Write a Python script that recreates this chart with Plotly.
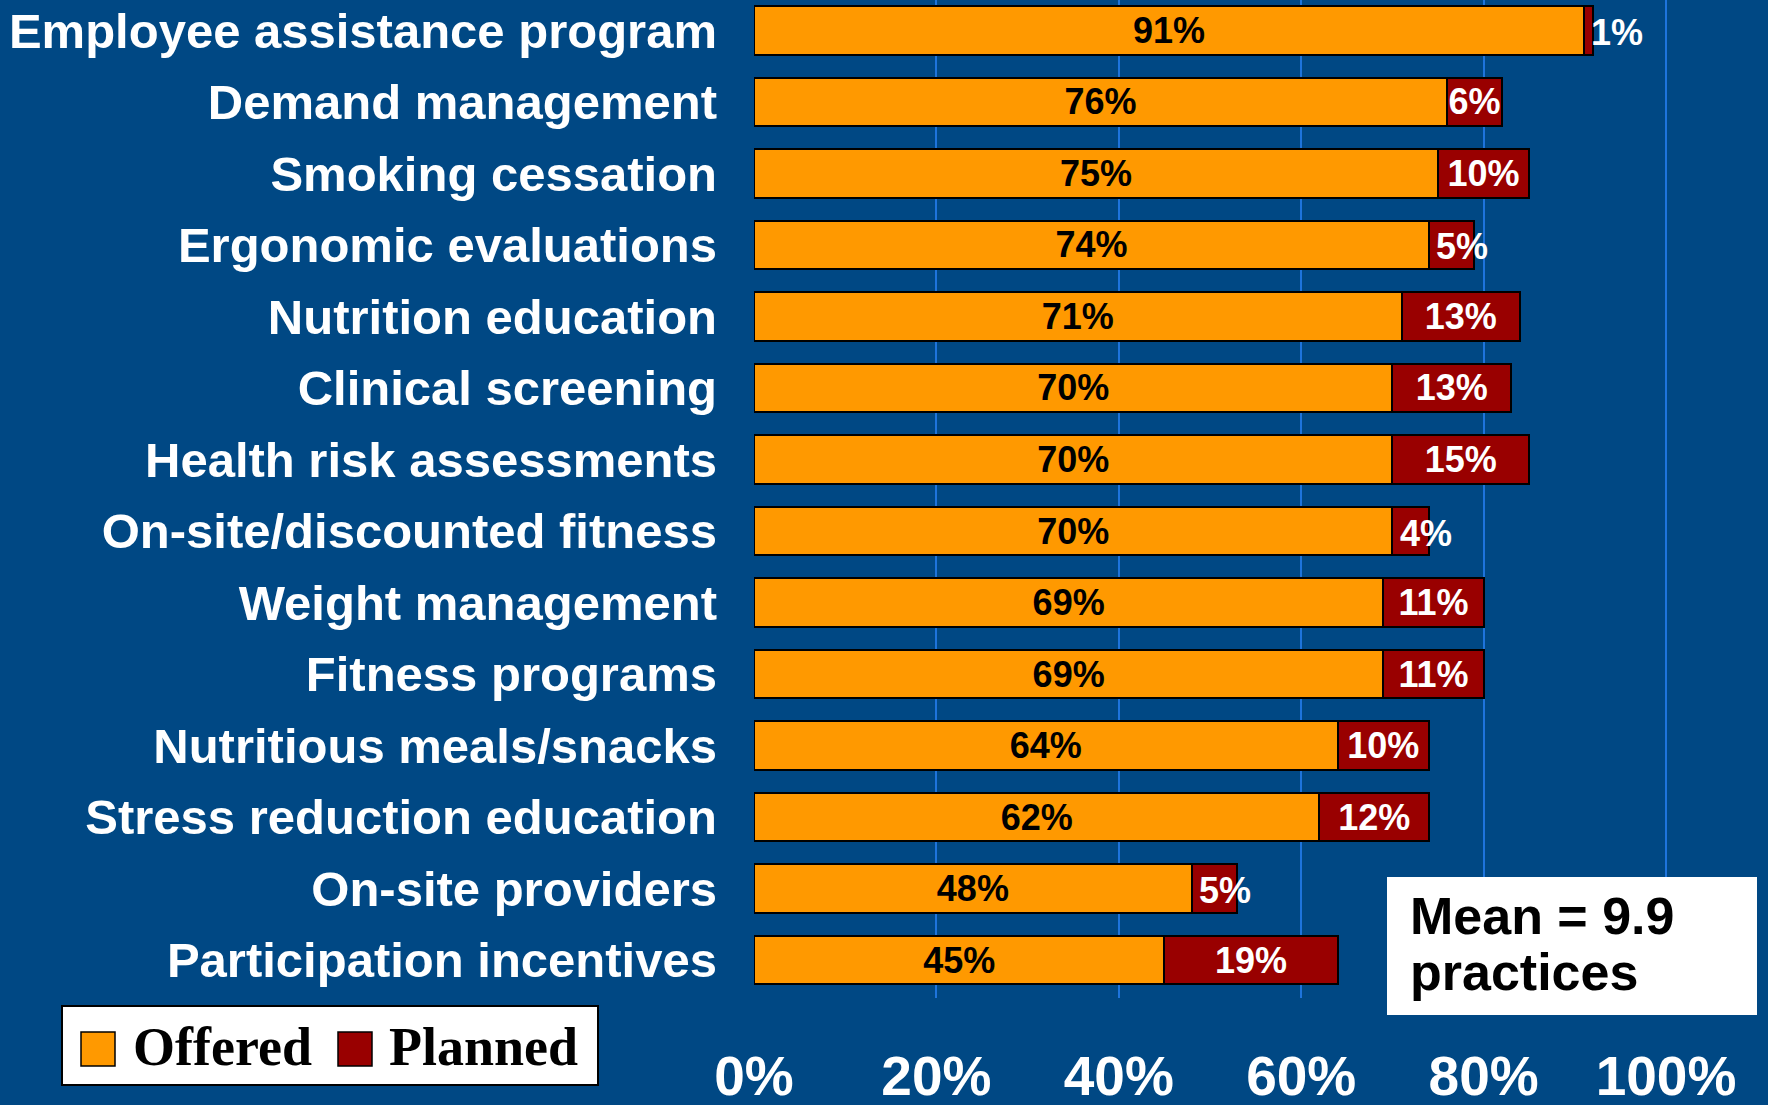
import plotly.graph_objects as go

categories = ["Employee assistance program", "Demand management", "Smoking cessation",
              "Ergonomic evaluations", "Nutrition education", "Clinical screening",
              "Health risk assessments", "On-site/discounted fitness", "Weight management",
              "Fitness programs", "Nutritious meals/snacks", "Stress reduction education",
              "On-site providers", "Participation incentives"]
offered = [91, 76, 75, 74, 71, 70, 70, 70, 69, 69, 64, 62, 48, 45]
planned = [1, 6, 10, 5, 13, 13, 15, 4, 11, 11, 10, 12, 5, 19]
tick_vals = [0, 20, 40, 60, 80, 100]
tick_text = ["0%", "20%", "40%", "60%", "80%", "100%"]
series_names = ["Offered", "Planned"]
mean_lines = ["Mean = 9.9", "practices"]

W, H = 1768, 1105
L, B = 754, 107
PW, PH = W - L, H - B
BG = "#004884"
ORANGE = "#FF9900"
RED = "#990000"
SANS = "Liberation Sans, Arial, sans-serif"
SERIF = "Liberation Serif, Times New Roman, serif"
LABEL_FONT = dict(family=SANS, size=36, weight="bold")


def px(x):
    return (x - L) / PW


def py(y):
    return (PH - y) / PH


big_planned_text = [f"{p}%" if p >= 6 else "" for p in planned]

fig = go.Figure()
fig.add_trace(go.Bar(y=categories, x=offered, orientation="h", name=series_names[0],
                     marker=dict(color=ORANGE, line=dict(color="black", width=2)),
                     text=[f"{o}%" for o in offered], textposition="inside",
                     insidetextanchor="middle", constraintext="none", textangle=0,
                     insidetextfont=dict(color="black", **LABEL_FONT),
                     hoverinfo="x+y"))
fig.add_trace(go.Bar(y=categories, x=planned, orientation="h", name=series_names[1],
                     marker=dict(color=RED, line=dict(color="black", width=2)),
                     text=big_planned_text, textposition="inside",
                     insidetextanchor="middle", constraintext="none", textangle=0,
                     insidetextfont=dict(color="white", **LABEL_FONT),
                     hoverinfo="x+y"))

shapes = []
annotations = []
# labels of the narrow planned segments, which spill to the right
for c, o, p in zip(categories, offered, planned):
    if p < 6:
        annotations.append(dict(xref="x", yref="y", x=o + min(p, 0.8), y=c, text=f"{p}%",
                                showarrow=False, xanchor="left", yanchor="middle",
                                yshift=-2, xshift=-2,
                                font=dict(color="white", **LABEL_FONT)))
# Mean box
shapes.append(dict(type="rect", xref="paper", yref="paper", x0=px(1387), x1=px(1757),
                   y0=py(1015), y1=py(877), fillcolor="white", line=dict(width=0), layer="above"))
for txt, yc in zip(mean_lines, [916, 972]):
    annotations.append(dict(xref="paper", yref="paper", x=px(1408), y=py(yc), text=txt,
                            showarrow=False, xanchor="left", yanchor="middle",
                            font=dict(family=SANS, size=52, color="black", weight="bold")))
# Legend box
shapes.append(dict(type="rect", xref="paper", yref="paper", x0=px(62), x1=px(598),
                   y0=py(1085), y1=py(1006), fillcolor="white",
                   line=dict(color="black", width=2), layer="above"))
for (x0, x1), col, name, tx in zip([(81, 115), (338, 372)], [ORANGE, RED], series_names, [131, 387]):
    shapes.append(dict(type="rect", xref="paper", yref="paper", x0=px(x0), x1=px(x1),
                       y0=py(1066), y1=py(1032), fillcolor=col,
                       line=dict(color="black", width=1.5), layer="above"))
    annotations.append(dict(xref="paper", yref="paper", x=px(tx), y=py(1047), text=name,
                            showarrow=False, xanchor="left", yanchor="middle",
                            font=dict(family=SERIF, size=54, color="black", weight="bold")))

fig.update_layout(
    width=W, height=H, barmode="stack", bargap=0.32, showlegend=False,
    paper_bgcolor=BG, plot_bgcolor=BG,
    margin=dict(l=L, r=0, t=0, b=B, pad=0, autoexpand=False),
    shapes=shapes, annotations=annotations,
    xaxis=dict(range=[0, PW / 912 * 100], tickvals=tick_vals, ticktext=tick_text,
               showgrid=True, gridcolor="#1E74DC", gridwidth=1.5, zeroline=False,
               showline=False, ticks="", ticklabelstandoff=41, automargin=False,
               tickfont=dict(family=SANS, size=55, color="white", weight="bold")),
    yaxis=dict(type="category", categoryorder="array", categoryarray=categories,
               range=[13.53, -0.425], showgrid=False, zeroline=False, showline=False,
               ticks="", ticklabelstandoff=36, automargin=False,
               tickfont=dict(family=SANS, size=49, color="white", weight="bold")),
)

fig.write_html("out.html", config={"displayModeBar": False},
               post_script="document.body.style.margin='0';"
                           "document.body.style.background='" + BG + "';"
                           "document.documentElement.style.overflow='hidden';")
